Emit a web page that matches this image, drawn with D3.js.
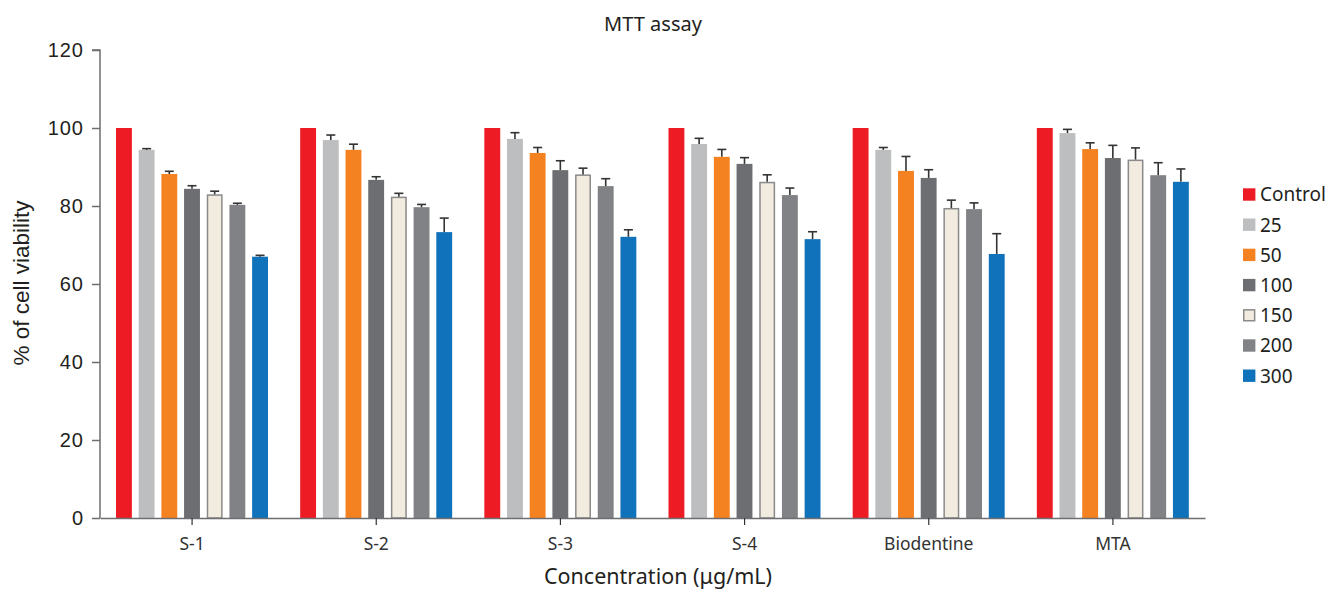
<!DOCTYPE html>
<html><head><meta charset="utf-8">
<script src="https://cdn.jsdelivr.net/npm/d3@7"></script>
<style>body{margin:0;background:#fff;} svg{display:block;}</style>
</head><body>
<svg id="chart" width="1325" height="589"></svg>
<script>
const groups = ["S-1","S-2","S-3","S-4","Biodentine","MTA"];
const seriesNames = ["Control","25","50","100","150","200","300"];
const seriesColors = ["#ed1c24","#bcbec0","#f58220","#6d6e71","#f2ebe0","#808285","#0f72ba"];
// values per group, in order of seriesNames
const values = [
  [100, 94.4, 88.2, 84.4, 83.0, 80.3, 67.0],
  [100, 96.9, 94.4, 86.7, 82.4, 79.7, 73.3],
  [100, 97.2, 93.6, 89.2, 88.1, 85.1, 72.1],
  [100, 95.9, 92.6, 90.8, 86.2, 82.8, 71.5],
  [100, 94.4, 89.0, 87.2, 79.5, 79.2, 67.7],
  [100, 98.7, 94.6, 92.3, 91.9, 87.9, 86.2]
];
const errors = [
  [0, 0.3, 0.7, 0.8, 0.8, 0.4, 0.35],
  [0, 1.3, 1.45, 0.8, 0.85, 0.7, 3.6],
  [0, 1.6, 1.4, 2.4, 1.6, 1.9, 1.8],
  [0, 1.45, 1.9, 1.6, 1.8, 1.8, 1.9],
  [0, 0.6, 3.7, 2.1, 2.0, 1.6, 5.2],
  [0, 0.95, 1.6, 3.25, 3.0, 3.2, 3.3]
];
const yTicks = [0,20,40,60,80,100,120];

(function(){
const svg = d3.select("#chart");
const mLeft = 100, mRight = 1205, mTop = 50, mBottom = 518;

const x0 = d3.scaleBand().domain(groups).range([mLeft, mRight]).padding(0);
const x1 = d3.scaleBand().domain(seriesNames).range([16, 168]).paddingInner(0.3).paddingOuter(0);
const y = d3.scaleLinear().domain([0,120]).range([mBottom, mTop]);
const color = d3.scaleOrdinal().domain(seriesNames).range(seriesColors);

// bars
const g = svg.append("g");
groups.forEach((grp, gi) => {
  seriesNames.forEach((s, si) => {
    const v = values[gi][si];
    const bx = x0(grp) + x1(s);
    const isOutline = s === "150";
    g.append("rect")
      .attr("x", isOutline ? bx + 0.75 : bx)
      .attr("y", isOutline ? y(v) + 0.75 : y(v))
      .attr("width", isOutline ? x1.bandwidth() - 1.5 : x1.bandwidth())
      .attr("height", isOutline ? mBottom - y(v) - 0.75 : mBottom - y(v))
      .attr("fill", color(s))
      .attr("stroke", isOutline ? "#8a8a8a" : "none")
      .attr("stroke-width", isOutline ? 1.5 : 0);
    const e = errors[gi][si];
    if (e > 0) {
      const cx = bx + x1.bandwidth()/2;
      g.append("line").attr("x1", cx).attr("x2", cx)
        .attr("y1", y(v)).attr("y2", y(v+e))
        .attr("stroke", "#333").attr("stroke-width", 1.6);
      g.append("line").attr("x1", cx-4.5).attr("x2", cx+4.5)
        .attr("y1", y(v+e)).attr("y2", y(v+e))
        .attr("stroke", "#333").attr("stroke-width", 1.6);
    }
  });
});

// y axis
const yAxis = d3.axisLeft(y).tickValues(yTicks).tickSize(8).tickPadding(8);
const ya = svg.append("g").attr("transform", `translate(${mLeft},0)`).call(yAxis);
ya.select(".domain").attr("stroke", "#6d6e71").attr("stroke-width", 1.5).attr("d", `M-8,${mTop}H0V${mBottom}`);
ya.selectAll(".tick line").attr("stroke", "#6d6e71").attr("stroke-width", 1.5);
ya.selectAll(".tick text").attr("font-family", "Liberation Sans, Arial, sans-serif").attr("font-size", 20)
  .attr("letter-spacing", "1px").attr("fill", "#231f20");

// x axis
const xAxis = d3.axisBottom(x0).tickSize(7).tickPadding(13).tickSizeOuter(0);
const xa = svg.append("g").attr("transform", `translate(0,${mBottom})`).call(xAxis);
xa.select(".domain").attr("stroke", "#6d6e71").attr("stroke-width", 1.5);
xa.selectAll(".tick line").attr("stroke", "#333").attr("stroke-width", 1.2);
xa.selectAll(".tick text").attr("font-family", "Noto Sans, sans-serif").attr("font-size", 17.5).attr("fill", "#333");

// titles
svg.append("text").attr("x", 653).attr("y", 31).attr("text-anchor", "middle")
  .attr("font-family", "Noto Sans, sans-serif").attr("font-size", 20).attr("fill", "#231f20").text("MTT assay");
svg.append("text").attr("x", 658).attr("y", 584).attr("text-anchor", "middle")
  .attr("font-family", "Noto Sans, sans-serif").attr("font-size", 21.5).attr("fill", "#231f20").text("Concentration (μg/mL)");
svg.append("text").attr("transform", "translate(29,283) rotate(-90)").attr("text-anchor", "middle")
  .attr("font-family", "Liberation Sans, Arial, sans-serif").attr("font-size", 22.5).attr("fill", "#231f20").text("% of cell viability");

// legend
const lg = svg.append("g").attr("transform", "translate(1243,194.5)");
seriesNames.forEach((s, i) => {
  const row = lg.append("g").attr("transform", `translate(0,${i*30.2})`);
  row.append("rect").attr("x", s === "150" ? 0.75 : 0).attr("y", s === "150" ? -5.45 : -6.2)
    .attr("width", s === "150" ? 10.9 : 12.4).attr("height", s === "150" ? 10.9 : 12.4)
    .attr("fill", color(s)).attr("stroke", s === "150" ? "#8a8a8a" : "none").attr("stroke-width", 1.5);
  row.append("text").attr("x", 17).attr("y", 6.8)
    .attr("font-family", "Noto Sans, sans-serif").attr("font-size", 19).attr("fill", "#231f20").text(s);
});
})();
</script>
</body></html>
